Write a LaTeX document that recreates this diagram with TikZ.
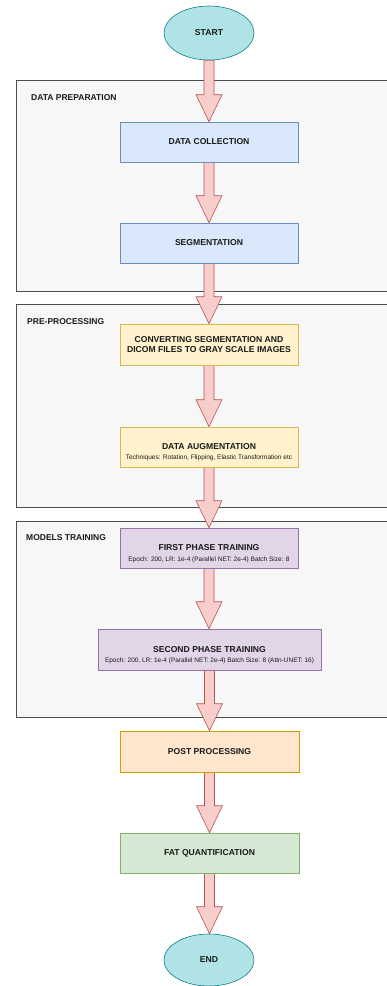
\documentclass[tikz,border=0pt]{standalone}
\usepackage{fontspec}
\setmainfont{Liberation Sans}
\usetikzlibrary{calc,shapes.geometric}

\definecolor{termfill}{HTML}{B0E3E6}
\definecolor{termline}{HTML}{0E8088}
\definecolor{bluefill}{HTML}{DAE8FC}
\definecolor{blueline}{HTML}{6C8EBF}
\definecolor{yellowfill}{HTML}{FFF2CC}
\definecolor{yellowline}{HTML}{D6B656}
\definecolor{purplefill}{HTML}{E1D5E7}
\definecolor{purpleline}{HTML}{9673A6}
\definecolor{orangefill}{HTML}{FFE6CC}
\definecolor{orangeline}{HTML}{D79B00}
\definecolor{greenfill}{HTML}{D5E8D4}
\definecolor{greenline}{HTML}{82B366}
\definecolor{arrowfill}{HTML}{F8CECC}
\definecolor{arrowline}{HTML}{B85450}
\definecolor{groupfill}{HTML}{F7F7F7}
\definecolor{groupline}{HTML}{4D4D4D}
\definecolor{ink}{HTML}{1A1A1A}

\tikzset{
  group/.style={draw=groupline, fill=groupfill, line width=0.8pt,
    anchor=north west, inner sep=0pt},
  grouplabel/.style={anchor=west, inner sep=0pt, text=ink,
    font=\bfseries\fontsize{8.5}{10}\selectfont},
  box/.style={draw, line width=0.6pt, inner sep=0pt, text=ink, align=center,
    minimum width=178pt, minimum height=40pt,
    font=\bfseries\fontsize{8.6}{9.6}\selectfont},
  terminal/.style={ellipse, draw=termline, fill=termfill, line width=0.6pt,
    inner sep=0pt, minimum width=90pt, text=ink,
    font=\bfseries\fontsize{8.6}{10}\selectfont},
  sub/.style={inner sep=0pt, text=ink, font=\fontsize{6.5}{7.5}\selectfont},
  barrow/.style={draw=arrowline, fill=arrowfill, line width=0.6pt,
    line join=miter},
}

% block arrow from the bottom of one node to the top of the next
\newcommand\blockarrow[2]{%
  \path[barrow] let \p1=(#1.south), \p2=(#2.north) in
    (\x1-5pt,\y1) -- (\x1-5pt,\y2+27pt) -- (\x1-13pt,\y2+27pt) --
    (\x1,\y2) -- (\x1+13pt,\y2+27pt) -- (\x1+5pt,\y2+27pt) --
    (\x1+5pt,\y1) -- cycle;}

\begin{document}
\begin{tikzpicture}[x=1pt,y=-1pt]
\useasboundingbox (0,0) rectangle (387,986);
\clip (0,0) rectangle (387,986);

% stage containers
\node[group, minimum width=380pt, minimum height=211pt] (prep) at (16,80) {};
\node[group, minimum width=380pt, minimum height=203pt] (pre) at (16,304) {};
\node[group, minimum width=380pt, minimum height=196pt] (train) at (16,521) {};
\node[grouplabel] (prepl) at (31,98) {DATA PREPARATION};
\node[grouplabel] (prel) at (27,322) {PRE-PROCESSING};
\node[grouplabel] (trainl) at (26,538) {MODELS TRAINING};

% terminals and steps (placed first so arrows can refer to them)
\path
  node[terminal, minimum height=54pt] (start) at (209,33) {START}
  node[box, minimum width=178pt] (collect) at (209,142) {}
  node[box] (seg) at (209,243) {}
  node[box, minimum height=41pt] (conv) at (209,344.5) {}
  node[box] (aug) at (209,447) {}
  node[box] (first) at (209,548) {}
  node[box, minimum width=223pt, minimum height=41pt] (second) at (209.5,649.5) {}
  node[box, minimum width=179pt, minimum height=41pt] (post) at (209.5,751.5) {}
  node[box, minimum width=179pt] (fat) at (209.5,853) {}
  node[terminal, minimum height=52pt] (end) at (209,960) {END};

% connectors
\blockarrow{start}{collect}
\blockarrow{collect}{seg}
\blockarrow{seg}{conv}
\blockarrow{conv}{aug}
\blockarrow{aug}{first}
\blockarrow{first}{second}
\blockarrow{second}{post}
\blockarrow{post}{fat}
\blockarrow{fat}{end}

% step boxes drawn over the arrow ends
\node[box, draw=blueline, fill=bluefill] at (collect) {DATA COLLECTION};
\node[box, draw=blueline, fill=bluefill] at (seg) {SEGMENTATION};
\node[box, draw=yellowline, fill=yellowfill, minimum height=41pt] at (conv)
  {CONVERTING SEGMENTATION AND\\DICOM FILES TO GRAY SCALE IMAGES};
\node[box, draw=yellowline, fill=yellowfill] at (aug) {DATA AUGMENTATION};
\node[sub] (augsub) at ($(aug.center)+(0,10.5)$)
  {Techniques: Rotation, Flipping, Elastic Transformation etc};
\node[box, draw=purpleline, fill=purplefill] at (first) {FIRST PHASE TRAINING};
\node[sub] (firstsub) at ($(first.center)+(0,12)$)
  {Epoch: 200, LR: 1e-4 (Parallel NET: 2e-4) Batch Size: 8};
\node[box, draw=purpleline, fill=purplefill, minimum width=223pt,
  minimum height=41pt] at (second) {SECOND PHASE TRAINING};
\node[sub] (secondsub) at ($(second.center)+(0,11.5)$)
  {Epoch: 200, LR: 1e-4 (Parallel NET: 2e-4) Batch Size: 8 (Attn-UNET: 16)};
\node[box, draw=orangeline, fill=orangefill, minimum width=179pt,
  minimum height=41pt] at (post) {POST PROCESSING};
\node[box, draw=greenline, fill=greenfill, minimum width=179pt] at (fat)
  {FAT QUANTIFICATION};
\end{tikzpicture}
\end{document}
